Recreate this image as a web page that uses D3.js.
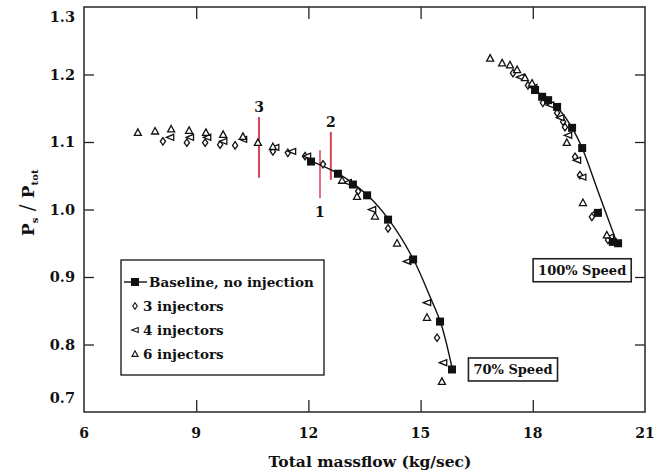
<!DOCTYPE html>
<html>
<head>
<meta charset="utf-8">
<script src="https://cdn.jsdelivr.net/npm/d3@7/dist/d3.min.js"></script>
<style>
  body { margin: 0; background: #fff; }
  text { font-family: "DejaVu Serif", serif; font-weight: bold; fill: #111; }
</style>
</head>
<body>
<svg id="chart"></svg>
<script>
var width = 661, height = 472;
var margin = {top: 7, right: 16, bottom: 60, left: 84};

// tick labels
var xTicks = [6, 9, 12, 15, 18, 21];
var yTicks = [0.7, 0.8, 0.9, 1.0, 1.1, 1.2, 1.3];

// 70% speed, [massflow, Ps/Ptot]
var base70 = [[12.07, 1.071], [12.79, 1.053], [13.19, 1.037], [13.57, 1.021],
  [14.13, 0.985], [14.80, 0.926], [15.52, 0.834], [15.84, 0.763]];
var fit70 = [[12.05, 1.072], [12.8, 1.053], [13.6, 1.020], [14.15, 0.985],
  [14.8, 0.927], [15.25, 0.871], [15.55, 0.830], [15.87, 0.758]];
var inj3_70 = [[8.11, 1.101], [8.75, 1.099], [9.24, 1.099], [9.64, 1.096], [10.04, 1.095],
  [11.05, 1.086], [11.45, 1.084], [11.91, 1.079], [12.39, 1.067], [13.33, 1.027],
  [14.13, 0.972], [15.44, 0.810]];
var inj4_70 = [[8.30, 1.107], [8.83, 1.107], [9.29, 1.107], [9.72, 1.101], [10.25, 1.104],
  [11.11, 1.092], [11.56, 1.086], [11.96, 1.079], [13.05, 1.040], [13.70, 1.000],
  [14.64, 0.923], [15.17, 0.862], [15.60, 0.773]];
var inj6_70 = [[7.44, 1.114], [7.90, 1.116], [8.33, 1.119], [8.81, 1.117], [9.26, 1.114],
  [9.72, 1.111], [10.25, 1.108], [10.65, 1.099], [11.05, 1.093], [12.90, 1.043],
  [13.30, 1.019], [13.78, 0.990], [14.37, 0.950], [15.17, 0.840], [15.57, 0.745]];

// 100% speed
var base100 = [[18.06, 1.177], [18.25, 1.167], [18.41, 1.162], [18.65, 1.152], [19.05, 1.121],
  [19.32, 1.091], [19.74, 0.995], [20.14, 0.952], [20.28, 0.950]];
var fit100 = [[17.9, 1.186], [18.3, 1.166], [18.7, 1.148], [19.05, 1.121], [19.32, 1.091],
  [19.75, 1.026], [20.28, 0.946]];
var inj3_100 = [[17.47, 1.202], [17.87, 1.184], [18.27, 1.158], [18.65, 1.143], [18.81, 1.130],
  [18.86, 1.122], [19.13, 1.078], [19.26, 1.051], [19.58, 0.989], [20.01, 0.955]];
var inj4_100 = [[17.66, 1.196], [18.01, 1.181], [18.46, 1.155], [18.73, 1.136], [18.94, 1.110],
  [19.18, 1.073], [19.32, 1.048], [19.72, 0.996], [20.06, 0.959]];
var inj6_100 = [[16.86, 1.224], [17.18, 1.217], [17.39, 1.214], [17.58, 1.207], [17.79, 1.195],
  [17.98, 1.187], [18.91, 1.099], [19.34, 1.010], [19.98, 0.962]];

// red measurement stations: label, massflow, top, bottom
var stationNames = ["1", "2", "3"];
var stationX = [12.31, 12.60, 10.68];
var stationTop = [1.088, 1.115, 1.137];
var stationBottom = [1.017, 1.044, 1.047];

var legendNames = ["Baseline, no injection", "3 injectors", "4 injectors", "6 injectors"];
var speedLabels = [{text: "70% Speed", x: 17.47, y: 0.763}, {text: "100% Speed", x: 19.32, y: 0.910}];

var svg = d3.select("#chart").attr("width", width).attr("height", height);
var pw = width - margin.left - margin.right, ph = height - margin.top - margin.bottom;
var g = svg.append("g").attr("transform", "translate(" + margin.left + "," + margin.top + ")");

var x = d3.scaleLinear().domain([6, 21]).range([0, pw]);
var y = d3.scaleLinear().domain([0.7, 1.3]).range([ph, 0]);

// inner ticks on all four sides
g.append("g").attr("transform", "translate(0," + ph + ")")
  .call(d3.axisBottom(x).tickValues(xTicks.slice(1, -1)).tickSizeInner(-12).tickFormat(""));
g.append("g")
  .call(d3.axisTop(x).tickValues(xTicks.slice(1, -1)).tickSizeInner(-12).tickFormat(""));
g.append("g")
  .call(d3.axisLeft(y).tickValues(yTicks.slice(1, -1)).tickSizeInner(-10).tickFormat(""));
g.append("g").attr("transform", "translate(" + pw + ",0)")
  .call(d3.axisRight(y).tickValues(yTicks.slice(1, -1)).tickSizeInner(-10).tickFormat(""));
g.selectAll(".domain").remove();
g.selectAll(".tick text").remove();
g.selectAll(".tick line").attr("stroke", "#222").attr("stroke-width", 1.3);

g.append("rect").attr("width", pw).attr("height", ph)
  .attr("fill", "none").attr("stroke", "#333").attr("stroke-width", 1.6);

// tick labels
g.selectAll(".xl").data(xTicks).enter().append("text")
  .attr("x", function (d) { return x(d); })
  .attr("y", ph + 26)
  .attr("text-anchor", "middle")
  .style("font-size", "14px")
  .text(function (d) { return d; });

g.selectAll(".yl").data(yTicks).enter().append("text")
  .attr("x", -9)
  .attr("y", function (d) {
    var off = d === 1.3 ? 10 : (d === 0.7 ? -14 : 0);  /* end labels pulled inside */
    return y(d) + off + 5;
  })
  .attr("text-anchor", "end")
  .style("font-size", "14.5px")
  .text(function (d) { return d3.format(".1f")(d); });

// axis titles
svg.append("text")
  .attr("x", 370).attr("y", 467)
  .attr("text-anchor", "middle")
  .style("font-size", "15.5px")
  .text("Total massflow (kg/sec)");

var yt = svg.append("text")
  .attr("transform", "translate(34," + (margin.top + y(1.01)) + ") rotate(-90)")
  .attr("text-anchor", "middle")
  .style("font-size", "17px");
yt.append("tspan").text("P");
yt.append("tspan").attr("dy", 4).style("font-size", "10px").text("s");
yt.append("tspan").attr("dy", -4).style("font-size", "20px").style("font-weight", "normal").text(" / ");
yt.append("tspan").text("P");
yt.append("tspan").attr("dy", 4).style("font-size", "10px").text("tot");

// red station lines
stationNames.forEach(function (name, i) {
  g.append("line")
    .attr("x1", x(stationX[i])).attr("x2", x(stationX[i]))
    .attr("y1", y(stationTop[i])).attr("y2", y(stationBottom[i]))
    .attr("stroke", i === 0 ? "#e0707c" : "#d94456")
    .attr("stroke-width", 2);
  var below = name === "1";
  g.append("text")
    .attr("x", x(stationX[i])).attr("y", below ? y(stationBottom[i]) + 19 : y(stationTop[i]) - 5)
    .attr("text-anchor", "middle")
    .style("font-size", "14px")
    .text(name);
});

// fitted baseline curves
var line = d3.line()
  .x(function (d) { return x(d[0]); })
  .y(function (d) { return y(d[1]); })
  .curve(d3.curveCatmullRom);
[fit70, fit100].forEach(function (f) {
  g.append("path").attr("d", line(f))
    .attr("fill", "none").attr("stroke", "#111").attr("stroke-width", 1.4);
});

// marker shapes
function diamond(s) {
  return "M0," + (-s) + "L" + (s * 0.7) + ",0L0," + s + "L" + (-s * 0.7) + ",0Z";
}
function leftTri(s) {
  return "M" + (-s) + ",0L" + s + "," + (-s * 0.8) + "L" + s + "," + (s * 0.8) + "Z";
}
function upTri(s) {
  return "M0," + (-s) + "L" + (s * 0.95) + "," + (s * 0.75) + "L" + (-s * 0.95) + "," + (s * 0.75) + "Z";
}

var openSeries = [
  {data: inj3_70.concat(inj3_100), shape: diamond},
  {data: inj4_70.concat(inj4_100), shape: leftTri},
  {data: inj6_70.concat(inj6_100), shape: upTri}
];
openSeries.forEach(function (s) {
  g.selectAll(null).data(s.data).enter().append("path")
    .attr("transform", function (d) { return "translate(" + x(d[0]) + "," + y(d[1]) + ")"; })
    .attr("d", s.shape(3.7))
    .attr("fill", "#fff").attr("stroke", "#111").attr("stroke-width", 1.3);
});

g.selectAll(".sq").data(base70.concat(base100)).enter().append("rect")
  .attr("x", function (d) { return x(d[0]) - 4; })
  .attr("y", function (d) { return y(d[1]) - 4; })
  .attr("width", 8).attr("height", 8)
  .attr("fill", "#111");

// speed labels
speedLabels.forEach(function (s) {
  var sg = g.append("g");
  var box = sg.append("rect");
  var t = sg.append("text")
    .attr("x", x(s.x)).attr("y", y(s.y) + 4.5)
    .attr("text-anchor", "middle")
    .style("font-size", "13px")
    .text(s.text);
  var b = t.node().getBBox();
  box.attr("x", b.x - 5).attr("y", b.y - 4)
    .attr("width", b.width + 10).attr("height", b.height + 8)
    .attr("fill", "#fff").attr("stroke", "#222").attr("stroke-width", 1.6);
});

// legend
var leg = svg.append("g").attr("transform", "translate(121,260)");
leg.append("rect").attr("width", 203).attr("height", 115)
  .attr("fill", "#fff").attr("stroke", "#222").attr("stroke-width", 1.4);
var legShapes = [null, diamond, leftTri, upTri];
legendNames.forEach(function (name, i) {
  var ry = 22 + i * 24;
  if (i === 0) {
    leg.append("line").attr("x1", 3).attr("x2", 26).attr("y1", ry).attr("y2", ry)
      .attr("stroke", "#111").attr("stroke-width", 1.4);
    leg.append("rect").attr("x", 10).attr("y", ry - 4).attr("width", 8).attr("height", 8).attr("fill", "#111");
  } else {
    leg.append("path").attr("transform", "translate(14," + ry + ")")
      .attr("d", legShapes[i](3.2))
      .attr("fill", "#fff").attr("stroke", "#111").attr("stroke-width", 1.1);
  }
  leg.append("text").attr("x", i === 0 ? 28 : 22).attr("y", ry + 5)
    .style("font-size", "13.5px")
    .text(name);
});
</script>
</body>
</html>
